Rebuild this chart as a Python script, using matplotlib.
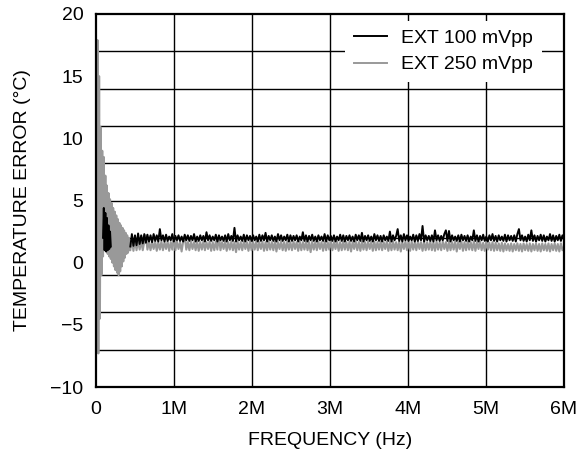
import numpy as np
import matplotlib
matplotlib.use("Agg")
import matplotlib.pyplot as plt

plt.rcParams['font.family'] = ['Liberation Sans', 'DejaVu Sans']

# frequency in MHz
x_ticks = [0, 1, 2, 3, 4, 5, 6]
x_tick_labels = ['0', '1M', '2M', '3M', '4M', '5M', '6M']
y_ticks = [-10, -5, 0, 5, 10, 15, 20]
y_tick_labels = ['\u221210', '\u22125', '0', '5', '10', '15', '20']

# start-up region of the 250 mVpp trace (MHz, degC)
gray_early_f = [0.00, 0.01, 0.02, 0.03, 0.04, 0.05, 0.06, 0.07, 0.08, 0.09,
                0.10, 0.11, 0.12, 0.13, 0.14, 0.15, 0.16, 0.17, 0.18, 0.19,
                0.20, 0.21, 0.22, 0.23, 0.24, 0.25, 0.26, 0.27, 0.28, 0.29,
                0.30, 0.31, 0.32, 0.33, 0.34, 0.35, 0.36, 0.37, 0.38, 0.39,
                0.40, 0.41, 0.42, 0.43]
gray_early_v = [1.0, 2.0, 17.9, -7.3, 15.0, -4.5, 10.9, -1.0, 9.0, 0.5,
                8.5, 1.0, 7.0, 0.9, 6.2, 0.7, 5.6, 0.5, 5.1, 0.3,
                4.8, 0.0, 4.4, -0.3, 4.1, -0.6, 3.8, -0.8, 3.5, -1.0,
                3.2, -0.7, 3.0, -0.3, 2.8, 0.1, 2.6, 0.4, 2.4, 0.7,
                2.2, 0.8, 2.0, 1.0]

# start-up region of the 100 mVpp trace
black_early_f = [0.09, 0.10, 0.11, 0.12, 0.13, 0.14, 0.15, 0.16, 0.17, 0.18, 0.19]
black_early_v = [2.0, 4.4, 1.0, 4.0, 0.9, 3.6, 1.0, 3.0, 1.1, 2.5, 1.3]

# settled region, evenly sampled from 0.44 to 6.0 MHz
flat_start, flat_stop = 0.44, 6.0

black_flat_v = [
    1.3, 2.3, 1.35, 2.2, 1.4, 2.35, 1.5, 2.2, 1.55, 2.3, 1.6, 2.25, 1.7, 2.2, 1.65, 2.3, 1.75, 2.2, 1.7, 2.7,
    1.8, 2.2, 1.7, 2.25, 1.75, 2.1, 1.8, 2.3, 1.7, 2.15, 1.8, 2.2, 1.75, 2.1, 1.7, 2.25, 1.8, 2.2, 1.75, 2.15,
    1.8, 2.3, 1.7, 2.1, 1.75, 2.2, 1.8, 2.15, 1.7, 2.45, 1.8, 2.2, 1.75, 2.1, 1.8, 2.25, 1.7, 2.2, 1.8, 2.1,
    1.75, 2.2, 1.7, 2.3, 1.8, 2.15, 1.75, 2.8, 1.7, 2.2, 1.8, 2.1, 1.75, 2.25, 1.7, 2.2, 1.8, 2.15, 1.75, 2.2,
    1.8, 2.1, 1.7, 2.25, 1.75, 2.2, 1.8, 2.4, 1.7, 2.15, 1.8, 2.2, 1.75, 2.1, 1.7, 2.3, 1.8, 2.2, 1.75, 2.1,
    1.8, 2.25, 1.7, 2.2, 1.75, 2.15, 1.8, 2.2, 1.7, 2.1, 1.8, 2.45, 1.75, 2.2, 1.7, 2.15, 1.8, 2.25, 1.75, 2.1,
    1.7, 2.2, 1.8, 2.1, 1.75, 2.3, 1.7, 2.2, 1.8, 2.15, 1.75, 2.2, 1.7, 2.1, 1.8, 2.25, 1.75, 2.2, 1.7, 2.15,
    1.8, 2.2, 1.75, 2.1, 1.7, 2.25, 1.8, 2.2, 1.75, 2.4, 1.7, 2.15, 1.8, 2.2, 1.75, 2.1, 1.7, 2.3, 1.8, 2.2,
    1.75, 2.15, 1.7, 2.2, 1.8, 2.1, 1.75, 2.5, 1.7, 2.2, 1.8, 2.15, 2.7, 1.75, 2.2, 1.7, 2.3, 1.8, 2.2, 1.75,
    2.1, 1.8, 2.25, 1.7, 2.2, 1.75, 2.3, 1.8, 2.95, 1.7, 2.2, 1.8, 2.15, 1.75, 2.2, 1.7, 2.6, 1.8, 2.2, 1.75,
    2.15, 1.8, 2.3, 2.6, 1.75, 2.55, 1.7, 2.2, 1.8, 2.1, 1.75, 2.2, 1.7, 2.25, 1.8, 2.15, 1.75, 2.2, 1.7, 2.1,
    1.8, 2.6, 1.75, 2.2, 1.7, 2.15, 1.8, 2.25, 1.75, 2.1, 1.7, 2.2, 1.8, 2.3, 1.75, 2.15, 1.7, 2.2, 1.8, 2.1,
    1.75, 2.25, 1.7, 2.2, 1.8, 2.15, 1.75, 2.2, 1.7, 2.3, 2.7, 1.8, 2.2, 1.75, 2.1, 1.7, 2.25, 1.8, 2.6, 1.75,
    2.2, 1.7, 2.15, 1.8, 2.25, 1.75, 2.2, 1.7, 2.1, 1.8, 2.3, 1.75, 2.2, 1.7, 2.15, 1.8, 2.25, 1.75, 2.2, 1.9,
]

gray_flat_v = [
    1.0, 1.9, 0.95, 1.85, 1.0, 1.8, 1.05, 1.75, 1.0, 1.7, 2.2, 1.05, 1.7, 1.0, 1.65, 1.1, 1.7, 0.95, 1.65, 1.05,
    1.7, 1.0, 1.65, 1.1, 1.7, 0.95, 1.65, 1.05, 2.1, 1.0, 1.7, 1.1, 1.65, 0.9, 1.7, 2.1, 1.05, 1.65, 1.0, 1.7,
    1.1, 1.65, 1.0, 1.7, 0.95, 1.65, 1.05, 1.7, 1.0, 1.65, 1.1, 1.7, 0.95, 1.65, 1.0, 1.7, 1.05, 2.1, 1.0, 1.65,
    1.1, 1.7, 0.95, 1.65, 1.05, 1.7, 1.0, 1.65, 0.85, 1.7, 1.05, 1.65, 1.0, 1.7, 1.1, 1.65, 0.95, 1.7, 1.0, 1.65,
    1.05, 1.7, 1.0, 1.65, 1.1, 1.7, 0.95, 1.65, 1.0, 1.7, 1.05, 1.65, 1.0, 1.7, 0.9, 1.65, 1.1, 1.7, 1.0, 1.65,
    0.95, 1.7, 1.05, 1.65, 1.0, 1.7, 1.1, 1.65, 0.95, 1.7, 1.0, 1.65, 1.05, 1.7, 1.0, 1.65, 0.85, 1.7, 1.05, 1.65,
    1.0, 1.7, 1.1, 1.65, 0.95, 1.7, 1.0, 1.65, 1.05, 1.7, 1.0, 1.65, 1.1, 1.7, 0.95, 1.65, 1.0, 1.7, 1.05, 1.65,
    1.0, 1.7, 0.9, 1.65, 1.1, 1.7, 1.0, 1.65, 0.95, 1.7, 1.05, 1.65, 1.0, 1.7, 1.1, 1.65, 0.95, 1.7, 1.0, 1.65,
    1.05, 1.7, 1.0, 1.65, 1.1, 1.7, 0.95, 1.65, 1.0, 1.7, 1.05, 1.65, 1.0, 1.7, 0.9, 1.65, 1.1, 1.7, 1.0, 1.65,
    0.95, 1.7, 1.05, 1.65, 1.0, 1.7, 1.1, 1.65, 0.95, 1.7, 1.0, 1.65, 1.05, 1.7, 1.0, 1.65, 0.95, 1.7, 1.05, 1.65,
    1.0, 1.7, 1.1, 1.65, 0.95, 1.7, 1.0, 1.65, 1.05, 1.7, 0.9, 1.65, 1.1, 1.7, 0.95, 1.65, 1.0, 1.7, 1.05, 1.65,
    1.0, 1.7, 0.95, 1.65, 1.1, 1.7, 1.0, 1.6, 0.95, 1.65, 1.05, 1.6, 1.0, 1.65, 0.95, 1.6, 1.0, 1.55, 0.95, 1.6,
    0.9, 1.55, 1.0, 1.5, 0.95, 1.55, 0.9, 1.5, 1.0, 1.55, 0.95, 1.5, 0.9, 1.55, 1.0, 1.5, 0.95, 1.55, 0.9, 1.5,
    1.0, 1.55, 0.95, 1.5, 0.9, 1.55, 1.0, 1.5, 0.95, 1.55, 0.9, 1.5, 1.0, 1.55, 0.95, 1.5, 0.9, 1.55, 1.0, 1.3,
]

flat_f = np.linspace(flat_start, flat_stop, len(black_flat_v))

gray_f = np.concatenate([gray_early_f, flat_f])
gray_v = np.concatenate([gray_early_v, gray_flat_v])
# gap between the start-up burst and the settled part of the black trace
black_f = np.concatenate([black_early_f, [0.30], flat_f])
black_v = np.concatenate([black_early_v, [np.nan], black_flat_v])

fig = plt.figure(figsize=(5.87, 4.62), dpi=100)
ax = fig.add_axes([96 / 587, 1 - 387 / 462, 468 / 587, 373 / 462])

ax.plot(gray_f, gray_v, color='#999999', linewidth=1.5, label='EXT 250 mVpp', zorder=3)
ax.plot(black_f, black_v, color='black', linewidth=1.4, label='EXT 100 mVpp', zorder=4)

ax.set_xlim(0, 6)
ax.set_ylim(-10, 20)
ax.set_xticks(x_ticks)
ax.set_xticklabels(x_tick_labels)
ax.set_yticks(y_ticks)
ax.set_yticklabels(y_tick_labels)

# grid: one line per 1M across, ten equal divisions up
for gx in range(1, 6):
    ax.axvline(gx, color='black', linewidth=1.0, zorder=1)
for gy in range(-7, 20, 3):
    ax.axhline(gy, color='black', linewidth=1.0, zorder=1)

ax.tick_params(which='both', length=0)
ax.tick_params(axis='x', labelsize=14, pad=10)
ax.tick_params(axis='y', labelsize=14, pad=9)
for s in ax.spines.values():
    s.set_linewidth(1.6)
    s.set_zorder(5)

ax.set_xlabel('FREQUENCY (Hz)', fontsize=14, labelpad=10)
ax.set_ylabel('TEMPERATURE ERROR (°C)', fontsize=14, labelpad=14)

handles, labels = ax.get_legend_handles_labels()
leg = ax.legend(handles[::-1], labels[::-1], loc='upper right',
                bbox_to_anchor=(0.952, 0.982), borderaxespad=0, fontsize=14,
                frameon=True, fancybox=False, edgecolor='none',
                facecolor='white', framealpha=1, handlelength=1.7,
                handletextpad=0.7, labelspacing=0.45, borderpad=0.45)
leg.set_zorder(6)
for line in leg.get_lines():
    line.set_linewidth(1.4)

fig.savefig('out.png', dpi=100)
